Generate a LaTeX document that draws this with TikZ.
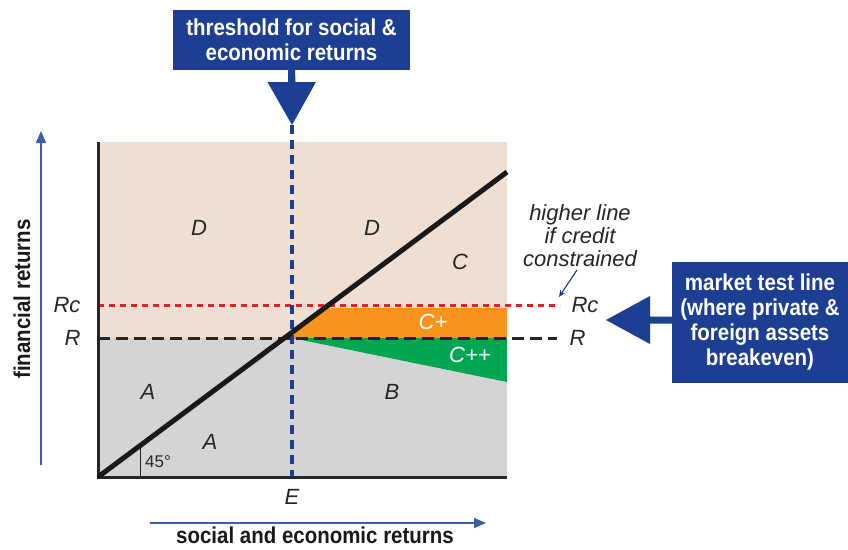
\documentclass[tikz,border=0pt]{standalone}
\usepackage{fontspec}
\setmainfont{Liberation Sans}
\newfontfamily\condfont[FakeStretch=0.89]{Liberation Sans}
\usetikzlibrary{arrows.meta}

\definecolor{boxblue}{HTML}{1D3F93}
\definecolor{axisblue}{HTML}{3D5DA8}
\definecolor{upper}{HTML}{EEDFD2}
\definecolor{lower}{HTML}{D4D4D4}
\definecolor{cplus}{HTML}{F7941D}
\definecolor{cpp}{HTML}{00A651}
\definecolor{redline}{HTML}{E3202B}

\tikzset{
    region/.style = {font=\fontsize{22}{24}\selectfont\itshape, text=black!85},
    inregion/.style = {font=\fontsize{22}{24}\selectfont\itshape, text=white},
    bluebox/.style = {fill=boxblue, text=white, align=center, inner sep=0pt,
        font=\condfont\bfseries\fontsize{23}{24.5}\selectfont},
    axislabel/.style = {font=\condfont\bfseries\fontsize{23}{24}\selectfont, text=black!90},
}

\begin{document}
\begin{tikzpicture} [x = 1pt, y = -1pt]

    \useasboundingbox (0,0) rectangle (848,549);

    % regions of the plane
    \fill [upper] (98,142) rectangle (507,338);
    \fill [lower] (98,338) rectangle (507,477);
    \fill [cplus] (292,338) -- (292,332) -- (325,308) -- (507,308) -- (507,338) -- cycle;
    \fill [cpp] (292,338) -- (507,338) -- (507,382) -- cycle;

    % market test lines
    \draw [black!85, line width = 3pt, dash pattern = on 12pt off 6pt] (98,338) -- (557,338);
    \draw [redline, line width = 3pt, dash pattern = on 6pt off 5pt] (98,305) -- (560,305);

    % frame
    \draw [black!85, line width = 3pt] (98,142) -- (98,477) -- (507,477);

    % threshold line
    \coordinate (Etop) at (292,125);
    \coordinate (Ebot) at (292,477);
    \draw [boxblue, line width = 3.2pt, dash pattern = on 9pt off 6pt] (Etop) -- (Ebot);

    % 45 degree line
    \coordinate (O) at (98,477);
    \coordinate (Dend) at (507,172);
    \draw [black!85, line width = 1pt] (140,447) -- (140,477);
    \draw [black!90, line width = 5pt] (O) -- (Dend);

    \node [region] (D1) at (199,228) {D};
    \node [region] (D2) at (372,228) {D};
    \node [region] (C) at (460,262) {C};
    \node [inregion] (Cp) at (433,322) {C+};
    \node [inregion] (Cpp) at (470,355) {C++};
    \node [region] (A1) at (148,392) {A};
    \node [region] (A2) at (210,442) {A};
    \node [region] (B) at (392,392) {B};
    \node [region, font=\fontsize{17}{20}\selectfont] (ang) at (158,462) {45°};
    \node [region] (E) at (292,497) {E};
    \node [region, anchor=east] (Rcl) at (84,305) {Rc};
    \node [region, anchor=east] (Rl) at (84,338) {R};
    \node [region, anchor=west] (Rcr) at (568,305) {Rc};
    \node [region, anchor=west] (Rr) at (566,338) {R};

    \node [region, align=center, font=\fontsize{22}{23}\selectfont\itshape] (note) at (580,236)
        {higher line\\if credit\\constrained};
    \draw [-{Stealth[length=7pt, width=6pt]}, boxblue, line width = 1.2pt] (577,270) -- (559,297);

    % axes
    \coordinate (yfrom) at (41,465);
    \coordinate (yto) at (41,131);
    \coordinate (xfrom) at (150,523);
    \coordinate (xto) at (486,523);
    \draw [-{Triangle[length=12pt, width=10pt]}, axisblue, line width = 1.5pt] (yfrom) -- (yto);
    \draw [-{Triangle[length=12pt, width=10pt]}, axisblue, line width = 1.5pt] (xfrom) -- (xto);
    \node [axislabel, rotate = 90] (ylab) at (22,299) {financial returns};
    \node [axislabel] (xlab) at (315,535) {social and economic returns};

    % call-out boxes
    \node [bluebox, minimum width = 237pt, minimum height = 60pt] (thr) at (291.5,40)
        {threshold for social \&\\economic returns};
    \fill [boxblue] ([xshift=-3.5pt]thr.south) -- ++(0,12) -- ++(-20.5,0)
        -- (Etop) -- ++(24,-43) -- ++(-20.5,0) -- ([xshift=3.5pt]thr.south) -- cycle;

    \node [bluebox, minimum width = 176pt, minimum height = 121pt,
        font=\condfont\bfseries\fontsize{23}{25}\selectfont] (mkt) at (760,322.5)
        {market test line\\(where private \&\\foreign assets\\breakeven)};
    \coordinate (tip) at (606,320);
    \fill [boxblue] (mkt.west |- 0,316.5) -- (650,316.5) -- (650,296)
        -- (tip) -- (650,344) -- (650,323.5) -- (mkt.west |- 0,323.5) -- cycle;

\end{tikzpicture}
\end{document}
